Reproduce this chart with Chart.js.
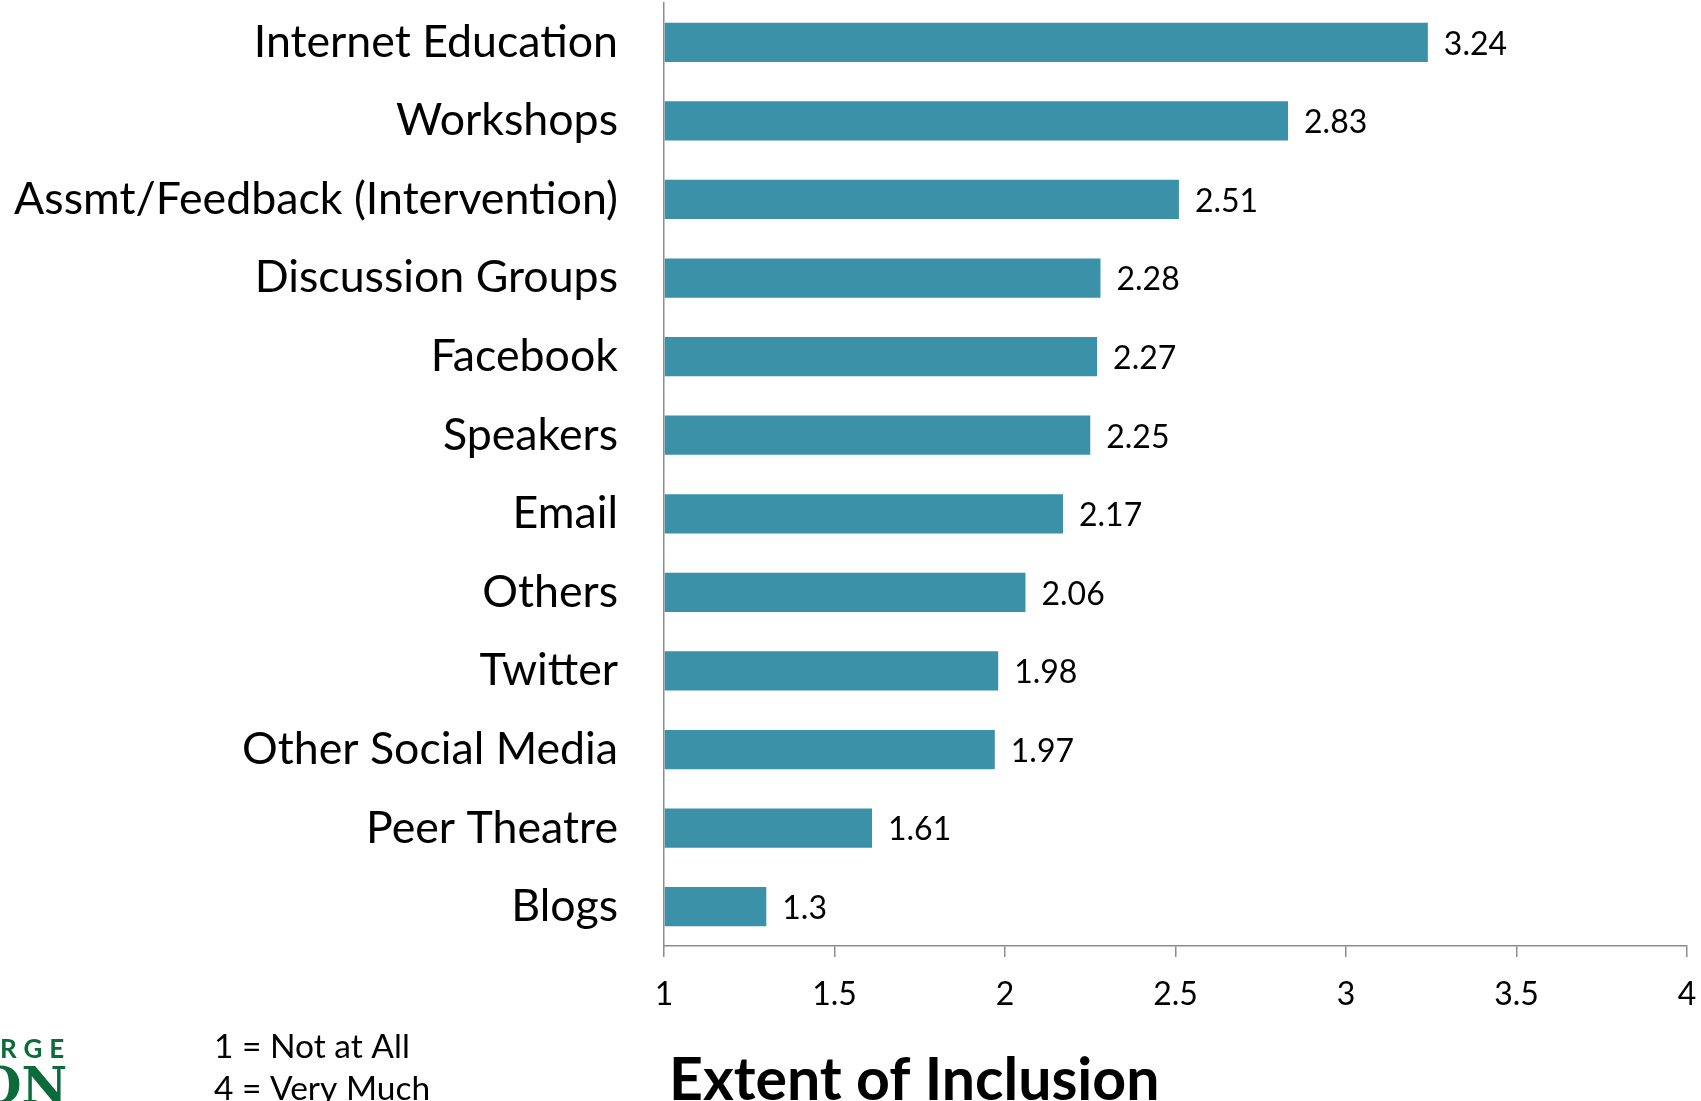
<!DOCTYPE html>
<html><head><meta charset="utf-8">
<script src="https://cdn.jsdelivr.net/npm/chart.js@4.4.1/dist/chart.umd.min.js"></script>
<style>html,body{margin:0;padding:0;background:#fff;overflow:hidden}#wrap{width:1701px;height:1101px}</style>
</head><body><div id="wrap"><canvas id="c" width="1701" height="1101"></canvas></div>
<script>
const categories = ["Internet Education","Workshops","Assmt/Feedback (Intervention)","Discussion Groups","Facebook","Speakers","Email","Others","Twitter","Other Social Media","Peer Theatre","Blogs"];
const values = [3.24,2.83,2.51,2.28,2.27,2.25,2.17,2.06,1.98,1.97,1.61,1.3];
const valueLabels = ["3.24","2.83","2.51","2.28","2.27","2.25","2.17","2.06","1.98","1.97","1.61","1.3"];
const xTicks = [1,1.5,2,2.5,3,3.5,4];
const axisTitle = "Extent of Inclusion";
const scaleNotes = ["1 = Not at All","4 = Very Much"];

const FONT = "Lato, 'Open Sans', sans-serif";

const extras = {
  id:'extras',
  afterDatasetsDraw(chart){
    const ctx = chart.ctx;
    const meta = chart.getDatasetMeta(0);
    ctx.save();
    ctx.fillStyle = '#000';
    ctx.font = "32px " + FONT;
    ctx.textBaseline = 'middle';
    ctx.textAlign = 'left';
    meta.data.forEach((bar,i)=>{
      ctx.fillText(valueLabels[i], bar.x + 16, bar.y + 2);
    });
    ctx.restore();
  },
  afterDraw(chart){
    const ctx = chart.ctx;
    const ca = chart.chartArea;
    ctx.save();
    ctx.fillStyle = '#000';
    ctx.font = "bold 59px " + FONT;
    ctx.textBaseline = 'alphabetic';
    ctx.textAlign = 'left';
    ctx.fillText(axisTitle, ca.left + 5, 1100);
    ctx.font = "33.5px " + FONT;
    ctx.fillText(scaleNotes[0], 214, 1058);
    ctx.fillText(scaleNotes[1], 214, 1100);
    ctx.fillStyle = '#0b6b3a';
    ctx.font = "bold 26px " + FONT;
    ctx.letterSpacing = '7px';
    ctx.fillText("RGE", 0, 1058);
    ctx.letterSpacing = '0px';
    ctx.font = "bold 50px 'DejaVu Serif', serif";
    ctx.fillText("ON", -22, 1103);
    ctx.restore();
  }
};

new Chart(document.getElementById('c'), {
  type:'bar',
  data:{ labels: categories, datasets:[{ data: values, backgroundColor:'#3A91A8', borderWidth:0, categoryPercentage:1.0, barPercentage:0.5, base:1 }]},
  options:{
    indexAxis:'y', responsive:false, animation:false,
    layout:{ padding:{ top:3, right:14, left:0, bottom:0 } },
    plugins:{ legend:{display:false}, tooltip:{enabled:false}, title:{display:false} },
    scales:{
      x:{ min:1, max:4, afterBuildTicks(s){ s.ticks = xTicks.map(v=>({value:v})); },
          grid:{ drawOnChartArea:false, drawTicks:true, tickLength:11, color:'#8c8c8c', lineWidth:1.5 },
          border:{ color:'#8c8c8c', width:1.5 },
          ticks:{ color:'#000', font:{ family:FONT, size:32 }, padding:18, maxRotation:0, autoSkip:false, callback:(v)=>String(v) },
          afterFit(s){ s.height = 155; s.paddingLeft = 0; s.paddingRight = 0; } },
      y:{ grid:{ display:true, drawOnChartArea:false, drawTicks:false },
          border:{ color:'#8c8c8c', width:1.5 },
          ticks:{ color:'#000', font:{ family:FONT, size:44.7 }, padding:46, autoSkip:false },
          afterFit(s){ s.width = 664; s.paddingTop = 0; s.paddingBottom = 0; } }
    }
  },
  plugins:[extras]
});
</script></body></html>
